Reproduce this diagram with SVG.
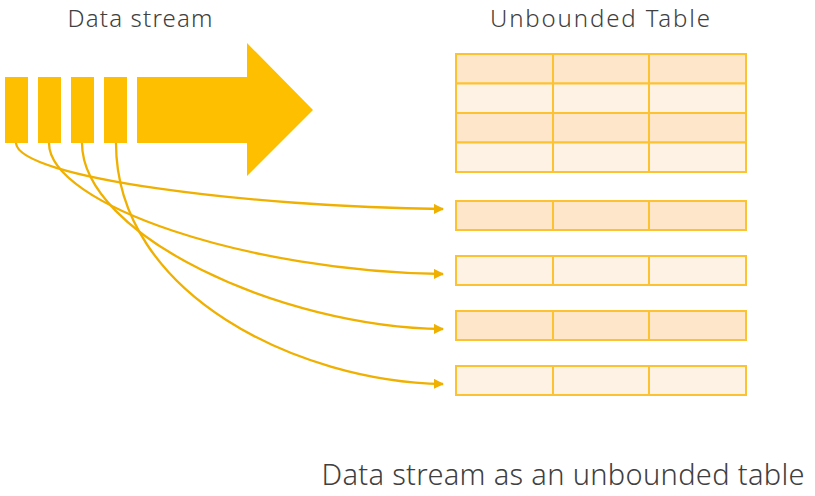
<svg xmlns="http://www.w3.org/2000/svg" width="815" height="496" viewBox="0 0 815 496">
<defs>
<style>
.t{font-family:"Noto Sans","Liberation Sans",sans-serif;fill:#404040;font-weight:300}
.blk{fill:#fdbf00}
.cell{stroke:#fcc232;stroke-width:2}
.dk{fill:#fde6c9}
.lt{fill:#fef2e4}
.c{fill:none;stroke:#f0b000;stroke-width:2.3;marker-end:url(#ah)}
</style>
<marker id="ah" viewBox="0 0 10 10" refX="9" refY="5" markerWidth="4.5" markerHeight="4.5" orient="auto" markerUnits="strokeWidth">
<path d="M0,0 L10,5 L0,10 z" fill="#f0b000"/>
</marker>
</defs>
<rect width="815" height="496" fill="#fff"/>
<text class="t" x="140" y="27" font-size="24" text-anchor="middle" textLength="145">Data stream</text>
<text class="t" x="600" y="27" font-size="24" text-anchor="middle" textLength="220">Unbounded Table</text>
<text class="t" x="563" y="485" font-size="29" text-anchor="middle" textLength="483">Data stream as an unbounded table</text>
<g id="stream">
<rect class="blk" x="5" y="77" width="23" height="66"/>
<rect class="blk" x="38" y="77" width="23" height="66"/>
<rect class="blk" x="71" y="77" width="23" height="66"/>
<rect class="blk" x="104" y="77" width="23" height="66"/>
<path class="blk" d="M137,77 H247 V43 L313,110 L247,176 V143 H137 z"/>
</g>
<g id="table">
<rect class="cell dk" x="456" y="54" width="97" height="29.5"/>
<rect class="cell dk" x="553" y="54" width="96" height="29.5"/>
<rect class="cell dk" x="649" y="54" width="97" height="29.5"/>
<rect class="cell lt" x="456" y="83.5" width="97" height="29.5"/>
<rect class="cell lt" x="553" y="83.5" width="96" height="29.5"/>
<rect class="cell lt" x="649" y="83.5" width="97" height="29.5"/>
<rect class="cell dk" x="456" y="113" width="97" height="29.5"/>
<rect class="cell dk" x="553" y="113" width="96" height="29.5"/>
<rect class="cell dk" x="649" y="113" width="97" height="29.5"/>
<rect class="cell lt" x="456" y="142.5" width="97" height="29.5"/>
<rect class="cell lt" x="553" y="142.5" width="96" height="29.5"/>
<rect class="cell lt" x="649" y="142.5" width="97" height="29.5"/>
</g>
<g id="row1">
<rect class="cell dk" x="456" y="201" width="97" height="29"/>
<rect class="cell dk" x="553" y="201" width="96" height="29"/>
<rect class="cell dk" x="649" y="201" width="97" height="29"/>
</g>
<g id="row2">
<rect class="cell lt" x="456" y="256" width="97" height="29"/>
<rect class="cell lt" x="553" y="256" width="96" height="29"/>
<rect class="cell lt" x="649" y="256" width="97" height="29"/>
</g>
<g id="row3">
<rect class="cell dk" x="456" y="311" width="97" height="29"/>
<rect class="cell dk" x="553" y="311" width="96" height="29"/>
<rect class="cell dk" x="649" y="311" width="97" height="29"/>
</g>
<g id="row4">
<rect class="cell lt" x="456" y="366" width="97" height="29"/>
<rect class="cell lt" x="553" y="366" width="96" height="29"/>
<rect class="cell lt" x="649" y="366" width="97" height="29"/>
</g>
<g id="connectors">
<path class="c" d="M16,143 C18,178 250,207 443,209"/>
<path class="c" d="M49,143 C49,205 250,272 443,274"/>
<path class="c" d="M82,143 C82,235 280,327 443,329"/>
<path class="c" d="M116,143 C116,295 300,382 443,384"/>
</g>
</svg>
